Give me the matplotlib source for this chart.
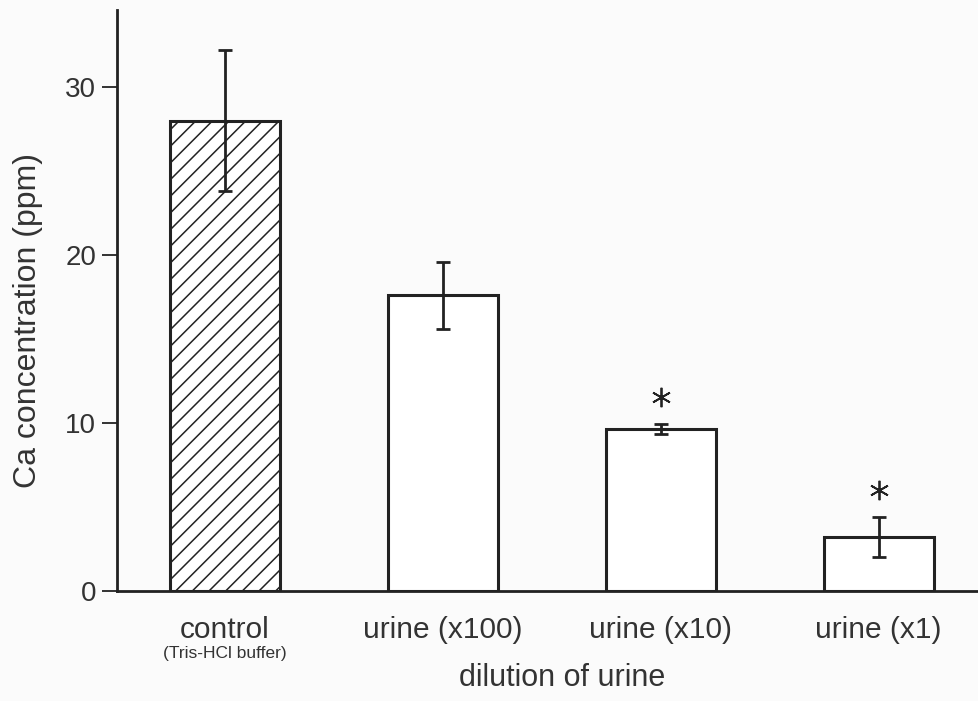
import matplotlib
matplotlib.use("Agg")
import matplotlib.pyplot as plt
import numpy as np

categories = ["control", "urine (x100)", "urine (x10)", "urine (x1)"]
sublabel = "(Tris-HCl buffer)"
means = [28.0, 17.6, 9.65, 3.2]
errors = [4.2, 2.0, 0.3, 1.2]
significant = [False, False, True, True]
hatches = ["//", "", "", ""]
yticks = [0, 10, 20, 30]

plt.rcParams["font.family"] = ["Liberation Sans", "DejaVu Sans"]
plt.rcParams["hatch.linewidth"] = 1.1
ink = "#222222"
plt.rcParams["hatch.color"] = ink

fig = plt.figure(figsize=(9.79, 7.01), dpi=100, facecolor="#fbfbfb")
ax = fig.add_axes([117/979, 1-591/701, 1-117/979, (591-10)/701])
ax.set_facecolor("#fbfbfb")

x = np.arange(len(categories))
for xi, m, e, h in zip(x, means, errors, hatches):
    ax.bar(xi, m, width=0.505, facecolor="white", edgecolor=ink, linewidth=2.2, hatch=h, zorder=2)
ax.errorbar(x, means, yerr=errors, fmt="none", ecolor=ink, elinewidth=2.0,
            capsize=4.7, capthick=2.0, zorder=3)

for xi, m, e, s in zip(x, means, errors, significant):
    if s:
        ax.plot(xi, m + e + 1.6, marker=(6, 2, 0), markersize=14, color=ink,
                markeredgewidth=1.3, zorder=4)

ax.set_xlim(-0.495, 3.46)
ax.set_ylim(0, 34.6)
ax.set_yticks(yticks)
ax.tick_params(axis="y", direction="out", length=11, width=1.3, color=ink,
               labelsize=20, pad=4, labelcolor="#333333")
ax.set_xticks(x)
ax.set_xticklabels(categories, fontsize=21.5, color="#333333")
ax.tick_params(axis="x", length=0, pad=18)
for sp in ["top", "right"]:
    ax.spines[sp].set_visible(False)
for sp in ["left", "bottom"]:
    ax.spines[sp].set_linewidth(2.0)
    ax.spines[sp].set_color(ink)

fig.text(28/979, 1-320/701, "Ca concentration (ppm)", rotation=90, ha="center",
         va="center", fontsize=23, color="#333333")
ax.text(x[0], -0.108, sublabel, transform=ax.get_xaxis_transform(), ha="center",
        va="center", fontsize=12.5, color="#333333")
fig.text(562/979, 1-678/701, "dilution of urine", ha="center", va="center",
         fontsize=22, color="#333333")

fig.savefig("out.png", dpi=100, facecolor=fig.get_facecolor())
